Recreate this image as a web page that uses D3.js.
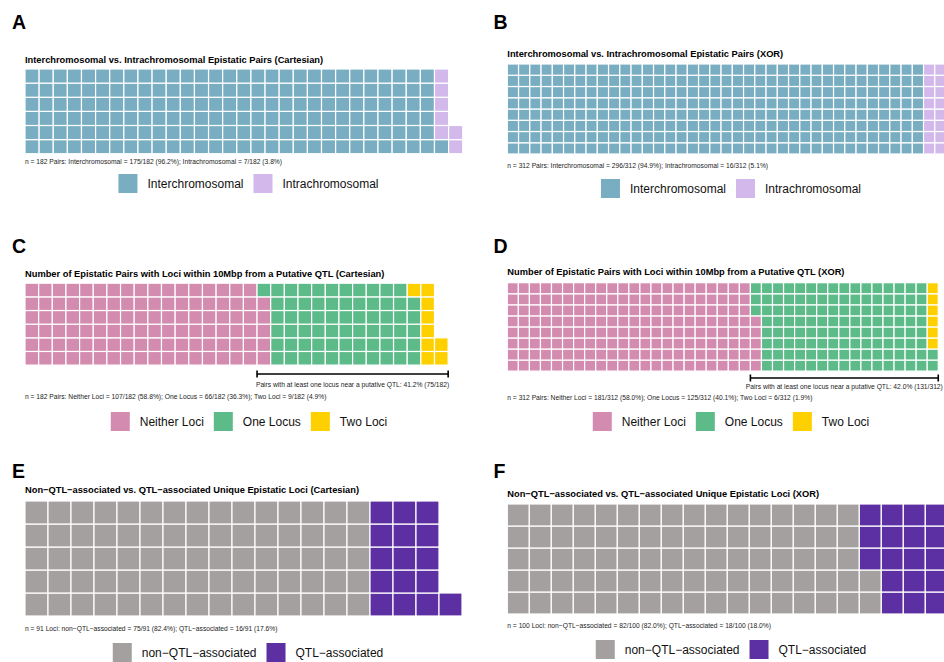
<!DOCTYPE html>
<html lang="en">
  <head>
    <meta charset="UTF-8" />
    <title>Epistatic pairs waffle charts</title>
    <style>
      body { margin: 0; background: #fff; }
      text { font-family: "Liberation Sans", Arial, Helvetica, sans-serif; fill: #000; }
      .letter { font-size: 19.5px; font-weight: bold; }
      .title { font-size: 9.3px; font-weight: bold; }
      .small { font-size: 6.7px; fill: #222; }
      .legend-label { font-size: 12px; fill: #111; }
      .cell { stroke: #fff; stroke-width: 1.2; }
      .bracket { stroke: #000; stroke-width: 1.6; fill: none; }
    </style>
  </head>
  <body>
    <svg id="container" width="944" height="662"></svg>
  </body>
  <script src="https://cdn.jsdelivr.net/npm/d3@7"></script>
  <script>
    // ---- data ----
    const panelLetters = ["A", "B", "C", "D", "E", "F"];
    const titles = [
      "Interchromosomal vs. Intrachromosomal Epistatic Pairs (Cartesian)",
      "Interchromosomal vs. Intrachromosomal Epistatic Pairs (XOR)",
      "Number of Epistatic Pairs with Loci within 10Mbp from a Putative QTL (Cartesian)",
      "Number of Epistatic Pairs with Loci within 10Mbp from a Putative QTL (XOR)",
      "Non\u2212QTL\u2212associated vs. QTL\u2212associated Unique Epistatic Loci (Cartesian)",
      "Non\u2212QTL\u2212associated vs. QTL\u2212associated Unique Epistatic Loci (XOR)"
    ];
    const chromCategories = ["Interchromosomal", "Intrachromosomal"];
    const qtlPairCategories = ["Neither Loci", "One Locus", "Two Loci"];
    const lociCategories = ["non\u2212QTL\u2212associated", "QTL\u2212associated"];

    const countsA = [175, 7];
    const countsB = [296, 16];
    const countsC = [107, 66, 9];
    const countsD = [181, 125, 6];
    const countsE = [75, 16];
    const countsF = [82, 18];

    const units = ["Pairs", "Pairs", "Pairs", "Pairs", "Loci", "Loci"];
    const rowsPerPanel = [6, 8, 6, 8, 5, 5];
    const bracketLabel = "Pairs with at least one locus near a putative QTL";

    const chromColors = ["#79adc2", "#d3b8ec"];
    const qtlPairColors = ["#d38bb0", "#5dbb89", "#ffd000"];
    const lociColors = ["#a3a09f", "#5c2fa3"];

    // ---- layout ----
    const layout = [
      { x0: 25, y0: 69, cell: 14.12, lx: 12, ly: 29, ty: 63, cy: 163.5, legY: 174, legCX: 248.5 },
      { x0: 507.3, y0: 64, cell: 11.25, lx: 493.5, ly: 29, ty: 57, cy: 167.5, legY: 179, legCX: 731 },
      { x0: 25, y0: 283.2, cell: 13.65, lx: 12, ly: 253, ty: 276.5, by: 374, bty: 386.5, cy: 398.5, legY: 412, legCX: 249 },
      { x0: 507.3, y0: 282.7, cell: 11.05, lx: 493.5, ly: 253, ty: 275, by: 378, bty: 388.5, cy: 399.5, legY: 412, legCX: 731 },
      { x0: 25, y0: 501, cell: 23, lx: 12, ly: 478, ty: 493, cy: 630.5, legY: 643, legCX: 248 },
      { x0: 507.3, y0: 504, cell: 22, lx: 493.5, ly: 478, ty: 497, cy: 627.5, legY: 640, legCX: 731 }
    ];

    const panels = [
      { counts: countsA, cats: chromCategories, colors: chromColors },
      { counts: countsB, cats: chromCategories, colors: chromColors },
      { counts: countsC, cats: qtlPairCategories, colors: qtlPairColors, bracket: true },
      { counts: countsD, cats: qtlPairCategories, colors: qtlPairColors, bracket: true },
      { counts: countsE, cats: lociCategories, colors: lociColors },
      { counts: countsF, cats: lociCategories, colors: lociColors }
    ];

    const svg = d3.select("#container");
    const pct = d3.format(".1f");

    panels.forEach((p, i) => {
      const L = layout[i];
      const rows = rowsPerPanel[i];
      const total = d3.sum(p.counts);
      const cols = Math.ceil(total / rows);
      const g = svg.append("g");

      // panel letter + title
      g.append("text").attr("class", "letter").attr("x", L.lx).attr("y", L.ly).text(panelLetters[i]);
      g.append("text").attr("class", "title").attr("x", L.x0).attr("y", L.ty).text(titles[i]);

      // waffle cells, filled column by column from the bottom row up
      const cells = [];
      p.counts.forEach((c, k) => d3.range(c).forEach(() => cells.push(k)));

      const xScale = d3.scaleBand().domain(d3.range(cols)).range([L.x0, L.x0 + cols * L.cell]);
      const yScale = d3.scaleBand().domain(d3.range(rows)).range([L.y0 + rows * L.cell, L.y0]);
      const color = d3.scaleOrdinal().domain(d3.range(p.cats.length)).range(p.colors);

      g.selectAll("rect.cell")
        .data(cells)
        .join("rect")
        .attr("class", "cell")
        .attr("x", (d, j) => xScale(Math.floor(j / rows)))
        .attr("y", (d, j) => yScale(j % rows))
        .attr("width", xScale.bandwidth())
        .attr("height", yScale.bandwidth())
        .attr("fill", d => color(d));

      // bracket over pairs with at least one locus near a QTL
      if (p.bracket) {
        const startCol = Math.floor(p.counts[0] / rows);
        const bx0 = xScale(startCol);
        const bx1 = xScale(cols - 1) + xScale.bandwidth();
        const near = total - p.counts[0];
        g.append("line").attr("class", "bracket").attr("x1", bx0).attr("x2", bx1).attr("y1", L.by).attr("y2", L.by);
        [bx0, bx1].forEach(x => {
          g.append("line").attr("class", "bracket").attr("stroke-width", 1.2)
            .attr("x1", x).attr("x2", x).attr("y1", L.by - 3.5).attr("y2", L.by + 3.5);
        });
        g.append("text").attr("class", "small").attr("text-anchor", "middle")
          .attr("x", (bx0 + bx1) / 2).attr("y", L.bty)
          .text(`${bracketLabel}: ${pct(near / total * 100)}% (${near}/${total})`);
      }

      // caption
      const parts = p.cats.map((c, k) =>
        `${c} = ${p.counts[k]}/${total} (${pct(p.counts[k] / total * 100)}%)`);
      g.append("text").attr("class", "small").attr("x", L.x0).attr("y", L.cy)
        .text(`n = ${total} ${units[i]}: ` + parts.join("; "));

      // legend, centred under panel
      const leg = g.append("g");
      let cx = 0;
      p.cats.forEach((c, k) => {
        leg.append("rect").attr("x", cx).attr("y", 0).attr("width", 19).attr("height", 19)
          .attr("fill", p.colors[k]);
        const t = leg.append("text").attr("class", "legend-label").attr("x", cx + 29).attr("y", 14).text(c);
        cx += 29 + t.node().getComputedTextLength() + 10;
      });
      const legW = cx - 10;
      leg.attr("transform", `translate(${L.legCX - legW / 2},${L.legY})`);
    });
  </script>
</html>
